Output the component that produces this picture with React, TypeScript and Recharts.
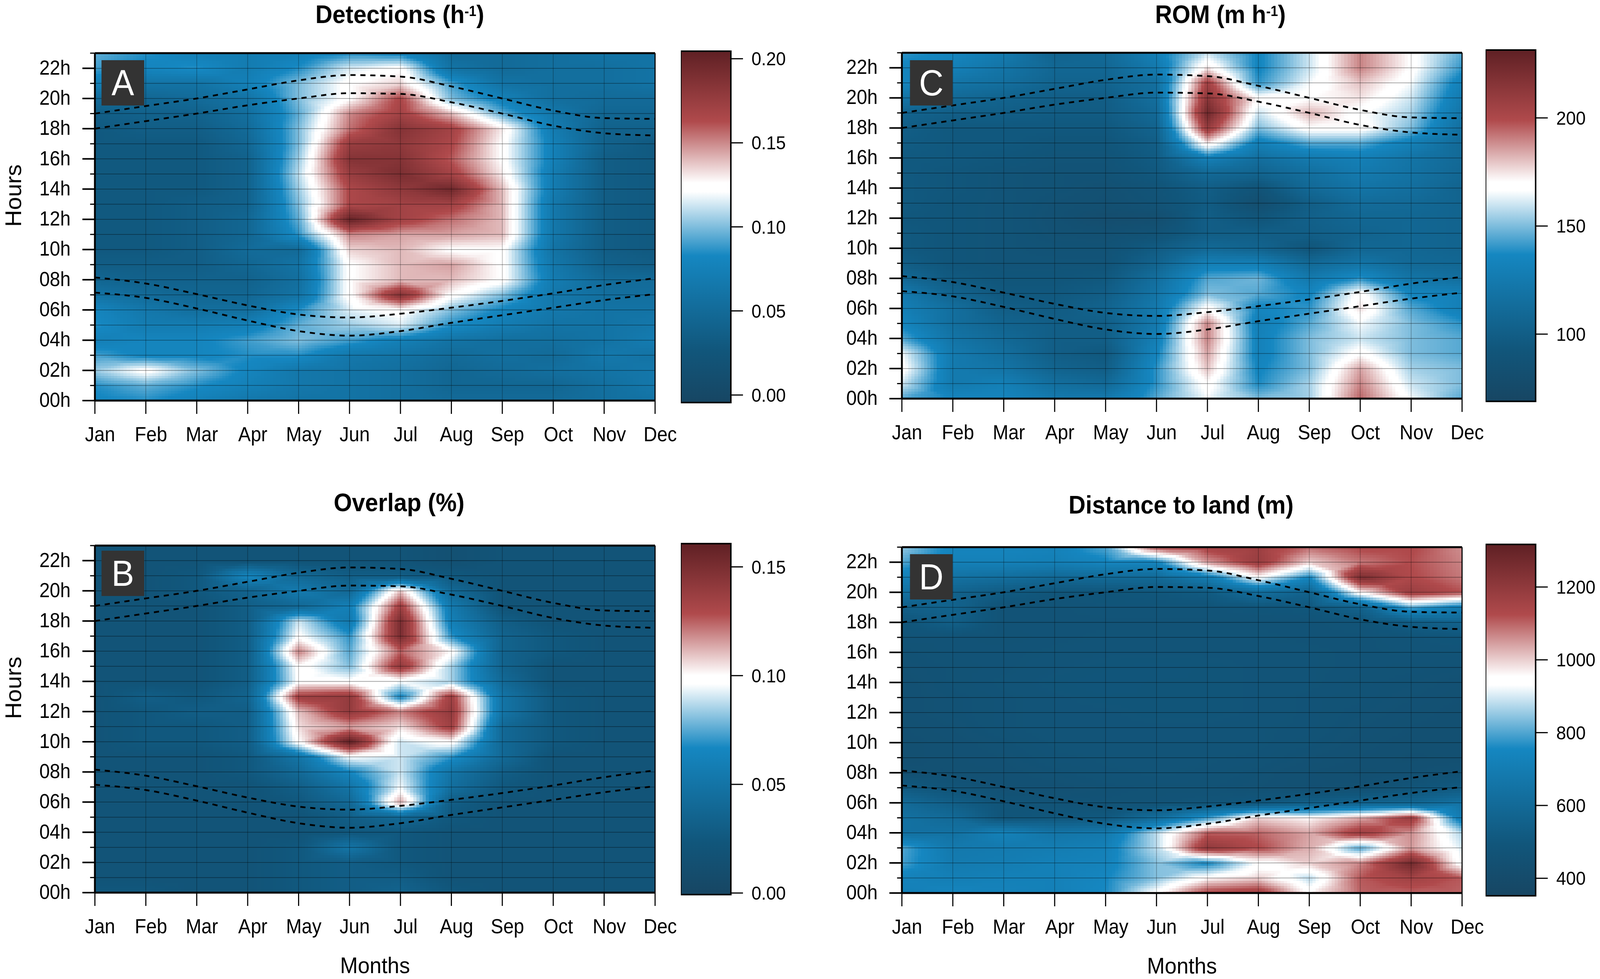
import React from "react";
import { Bar, BarChart, ComposedChart, Line, ReferenceLine, Scatter, XAxis, YAxis } from "recharts";

const MONTHS = ["Jan", "Feb", "Mar", "Apr", "May", "Jun", "Jul", "Aug", "Sep", "Oct", "Nov", "Dec"];
const MONTH_TICKS = [0, 1, 2, 3, 4, 5, 6, 7, 8, 9, 10, 11];
const HOUR_TICKS = [0, 1, 2, 3, 4, 5, 6, 7, 8, 9, 10, 11, 12, 13, 14, 15, 16, 17, 18, 19, 20, 21, 22, 23];

// dusk and dawn curves, one value per month
const DUSK_UPPER = [19.0, 19.5, 20.0, 20.6, 21.2, 21.55, 21.45, 20.8, 20.0, 19.2, 18.7, 18.65];
const DUSK_LOWER = [18.0, 18.5, 19.0, 19.55, 20.0, 20.35, 20.3, 19.75, 19.0, 18.2, 17.7, 17.55];
const DAWN_UPPER = [8.15, 7.75, 7.05, 6.3, 5.7, 5.5, 5.75, 6.15, 6.6, 7.1, 7.65, 8.1];
const DAWN_LOWER = [7.15, 6.8, 6.1, 5.3, 4.6, 4.3, 4.6, 5.15, 5.65, 6.15, 6.65, 7.05];

// every grid below runs top-down: first row is 23h, last row is 00h
const DETECTIONS = [
  [0.095, 0.085, 0.075, 0.07, 0.075, 0.085, 0.08, 0.05, 0.05, 0.055, 0.06, 0.06],
  [0.09, 0.08, 0.085, 0.07, 0.085, 0.115, 0.125, 0.06, 0.05, 0.055, 0.055, 0.06],
  [0.075, 0.06, 0.06, 0.075, 0.1, 0.125, 0.135, 0.09, 0.06, 0.055, 0.055, 0.06],
  [0.05, 0.045, 0.05, 0.06, 0.1, 0.125, 0.165, 0.1, 0.075, 0.055, 0.05, 0.05],
  [0.035, 0.04, 0.04, 0.055, 0.095, 0.15, 0.17, 0.14, 0.095, 0.065, 0.045, 0.045],
  [0.03, 0.035, 0.035, 0.05, 0.1, 0.155, 0.185, 0.17, 0.13, 0.07, 0.04, 0.04],
  [0.03, 0.03, 0.03, 0.045, 0.1, 0.175, 0.18, 0.165, 0.125, 0.075, 0.04, 0.03],
  [0.03, 0.03, 0.03, 0.04, 0.105, 0.185, 0.185, 0.16, 0.125, 0.075, 0.035, 0.03],
  [0.03, 0.03, 0.03, 0.04, 0.11, 0.175, 0.19, 0.17, 0.13, 0.07, 0.035, 0.03],
  [0.03, 0.03, 0.03, 0.04, 0.105, 0.165, 0.18, 0.195, 0.14, 0.07, 0.035, 0.03],
  [0.03, 0.03, 0.035, 0.04, 0.1, 0.165, 0.17, 0.17, 0.14, 0.065, 0.035, 0.03],
  [0.03, 0.03, 0.035, 0.045, 0.095, 0.2, 0.17, 0.155, 0.14, 0.065, 0.035, 0.03],
  [0.03, 0.03, 0.035, 0.045, 0.087, 0.15, 0.145, 0.145, 0.14, 0.065, 0.035, 0.03],
  [0.03, 0.03, 0.035, 0.05, 0.05, 0.135, 0.14, 0.125, 0.125, 0.06, 0.035, 0.03],
  [0.035, 0.035, 0.035, 0.045, 0.06, 0.125, 0.14, 0.145, 0.125, 0.065, 0.04, 0.035],
  [0.045, 0.04, 0.04, 0.04, 0.055, 0.125, 0.14, 0.14, 0.125, 0.07, 0.05, 0.05],
  [0.06, 0.05, 0.045, 0.045, 0.06, 0.125, 0.185, 0.125, 0.1, 0.065, 0.055, 0.055],
  [0.08, 0.065, 0.055, 0.055, 0.085, 0.115, 0.125, 0.1, 0.08, 0.065, 0.06, 0.06],
  [0.085, 0.07, 0.07, 0.075, 0.095, 0.105, 0.115, 0.085, 0.07, 0.06, 0.06, 0.065],
  [0.075, 0.08, 0.08, 0.09, 0.1, 0.09, 0.075, 0.06, 0.055, 0.055, 0.06, 0.07],
  [0.09, 0.08, 0.08, 0.085, 0.085, 0.065, 0.06, 0.05, 0.055, 0.05, 0.065, 0.06],
  [0.105, 0.125, 0.1, 0.08, 0.065, 0.06, 0.055, 0.045, 0.05, 0.055, 0.06, 0.065],
  [0.085, 0.095, 0.085, 0.075, 0.065, 0.06, 0.055, 0.045, 0.045, 0.045, 0.055, 0.065],
  [0.08, 0.085, 0.075, 0.065, 0.06, 0.06, 0.055, 0.05, 0.05, 0.05, 0.055, 0.06],
];

const OVERLAP = [
  [0.02, 0.02, 0.02, 0.02, 0.02, 0.02, 0.02, 0.015, 0.02, 0.02, 0.02, 0.02],
  [0.02, 0.02, 0.02, 0.02, 0.02, 0.02, 0.02, 0.015, 0.02, 0.02, 0.02, 0.02],
  [0.02, 0.02, 0.025, 0.065, 0.04, 0.03, 0.03, 0.025, 0.02, 0.02, 0.02, 0.02],
  [0.02, 0.02, 0.025, 0.035, 0.055, 0.04, 0.11, 0.04, 0.02, 0.02, 0.02, 0.02],
  [0.02, 0.02, 0.02, 0.03, 0.04, 0.06, 0.135, 0.055, 0.02, 0.02, 0.02, 0.02],
  [0.02, 0.02, 0.02, 0.03, 0.09, 0.055, 0.15, 0.06, 0.03, 0.02, 0.02, 0.02],
  [0.02, 0.02, 0.02, 0.03, 0.098, 0.07, 0.15, 0.07, 0.035, 0.025, 0.02, 0.02],
  [0.02, 0.02, 0.02, 0.03, 0.12, 0.075, 0.125, 0.1, 0.035, 0.025, 0.02, 0.02],
  [0.02, 0.02, 0.02, 0.03, 0.1, 0.08, 0.14, 0.085, 0.035, 0.02, 0.02, 0.02],
  [0.02, 0.02, 0.02, 0.03, 0.098, 0.098, 0.095, 0.085, 0.04, 0.02, 0.02, 0.02],
  [0.02, 0.03, 0.025, 0.035, 0.135, 0.14, 0.065, 0.135, 0.05, 0.025, 0.02, 0.02],
  [0.02, 0.025, 0.03, 0.03, 0.11, 0.14, 0.12, 0.14, 0.05, 0.025, 0.02, 0.02],
  [0.02, 0.025, 0.025, 0.03, 0.105, 0.115, 0.105, 0.135, 0.04, 0.025, 0.02, 0.02],
  [0.02, 0.025, 0.025, 0.03, 0.1, 0.16, 0.09, 0.1, 0.04, 0.025, 0.02, 0.02],
  [0.02, 0.02, 0.02, 0.025, 0.05, 0.095, 0.09, 0.07, 0.04, 0.02, 0.02, 0.02],
  [0.02, 0.02, 0.02, 0.025, 0.04, 0.065, 0.09, 0.05, 0.03, 0.02, 0.02, 0.02],
  [0.02, 0.02, 0.02, 0.02, 0.03, 0.05, 0.095, 0.045, 0.025, 0.02, 0.02, 0.02],
  [0.02, 0.02, 0.02, 0.02, 0.025, 0.04, 0.115, 0.03, 0.02, 0.02, 0.02, 0.02],
  [0.02, 0.02, 0.02, 0.02, 0.02, 0.03, 0.04, 0.025, 0.02, 0.02, 0.02, 0.02],
  [0.02, 0.02, 0.02, 0.02, 0.02, 0.025, 0.025, 0.02, 0.02, 0.02, 0.02, 0.02],
  [0.02, 0.02, 0.02, 0.02, 0.025, 0.05, 0.025, 0.02, 0.02, 0.02, 0.02, 0.02],
  [0.02, 0.02, 0.02, 0.02, 0.025, 0.03, 0.025, 0.02, 0.02, 0.02, 0.02, 0.02],
  [0.02, 0.02, 0.02, 0.02, 0.025, 0.03, 0.03, 0.02, 0.02, 0.02, 0.02, 0.02],
  [0.025, 0.025, 0.02, 0.02, 0.025, 0.03, 0.035, 0.025, 0.02, 0.02, 0.02, 0.02],
];

const ROM = [
  [140, 135, 125, 105, 110, 130, 160, 135, 160, 190, 170, 145],
  [135, 130, 120, 108, 108, 125, 175, 135, 160, 190, 170, 140],
  [135, 120, 115, 105, 105, 115, 205, 140, 165, 180, 165, 130],
  [120, 110, 105, 100, 100, 115, 215, 170, 170, 175, 160, 125],
  [105, 100, 100, 98, 98, 110, 225, 160, 182, 168, 155, 120],
  [100, 95, 95, 95, 95, 105, 210, 150, 170, 170, 150, 115],
  [98, 95, 95, 92, 92, 100, 175, 130, 145, 145, 130, 110],
  [96, 95, 93, 90, 90, 98, 130, 115, 125, 130, 120, 110],
  [96, 93, 90, 88, 88, 95, 110, 105, 115, 125, 118, 108],
  [96, 93, 90, 88, 85, 90, 100, 90, 110, 120, 115, 105],
  [96, 92, 90, 86, 84, 88, 98, 82, 100, 112, 110, 105],
  [94, 92, 90, 85, 80, 82, 100, 92, 102, 108, 108, 105],
  [96, 92, 90, 86, 85, 88, 100, 100, 100, 105, 108, 105],
  [96, 92, 90, 88, 88, 98, 110, 105, 92, 108, 108, 105],
  [100, 92, 90, 90, 90, 105, 130, 130, 110, 120, 110, 108],
  [110, 96, 92, 92, 95, 115, 145, 148, 125, 140, 120, 115],
  [125, 105, 95, 95, 100, 120, 150, 145, 135, 170, 135, 130],
  [130, 115, 100, 98, 105, 125, 170, 135, 140, 175, 145, 130],
  [135, 115, 105, 100, 100, 125, 190, 130, 145, 165, 150, 140],
  [145, 120, 110, 100, 100, 130, 190, 132, 150, 160, 150, 145],
  [165, 125, 115, 100, 95, 135, 185, 132, 150, 170, 150, 145],
  [170, 125, 120, 105, 100, 140, 180, 135, 150, 185, 155, 150],
  [160, 125, 130, 115, 110, 140, 170, 138, 155, 190, 160, 150],
  [145, 135, 135, 125, 125, 145, 165, 150, 155, 195, 165, 145],
];

const DISTANCE = [
  [850, 740, 740, 730, 800, 1120, 1150, 1170, 1090, 1130, 1130, 1060],
  [800, 720, 720, 710, 740, 740, 1050, 1180, 1000, 1080, 1120, 1070],
  [720, 640, 620, 590, 600, 600, 700, 945, 750, 1250, 1130, 1080],
  [640, 560, 520, 490, 490, 500, 520, 620, 560, 960, 1180, 1120],
  [540, 560, 470, 470, 480, 480, 480, 490, 500, 560, 800, 700],
  [490, 540, 470, 470, 470, 470, 470, 470, 470, 480, 530, 560],
  [470, 470, 465, 470, 475, 475, 475, 475, 470, 470, 480, 490],
  [460, 470, 470, 475, 480, 480, 480, 480, 475, 470, 475, 475],
  [455, 465, 470, 480, 485, 490, 485, 480, 475, 470, 465, 460],
  [450, 465, 475, 485, 490, 485, 485, 480, 475, 465, 460, 450],
  [450, 460, 470, 480, 485, 485, 485, 480, 470, 465, 455, 445],
  [450, 460, 470, 480, 480, 485, 485, 480, 470, 460, 450, 440],
  [445, 455, 470, 480, 480, 480, 480, 475, 470, 455, 445, 440],
  [440, 450, 460, 475, 480, 480, 480, 475, 465, 450, 440, 440],
  [440, 450, 455, 470, 475, 480, 475, 470, 455, 445, 435, 440],
  [450, 445, 450, 460, 470, 475, 470, 460, 445, 435, 445, 460],
  [520, 480, 450, 450, 460, 465, 465, 455, 445, 450, 480, 520],
  [600, 540, 480, 470, 465, 470, 480, 500, 540, 560, 580, 640],
  [640, 600, 490, 500, 510, 620, 790, 1000, 960, 1040, 1170, 700],
  [640, 640, 720, 660, 680, 880, 1110, 1100, 1040, 1170, 1060, 870],
  [800, 680, 690, 700, 720, 880, 1200, 1130, 1030, 800, 1050, 900],
  [790, 690, 700, 720, 730, 840, 750, 930, 1000, 1070, 1270, 930],
  [730, 710, 720, 720, 750, 840, 960, 1000, 880, 1110, 1160, 1110],
  [720, 740, 730, 720, 760, 950, 1150, 1180, 960, 1100, 1100, 1100],
];

const BAR_TICKS_A = [0, 0.05, 0.1, 0.15, 0.2];
const BAR_TICKS_B = [0, 0.05, 0.1, 0.15];
const BAR_TICKS_C = [100, 150, 200];
const BAR_TICKS_D = [400, 600, 800, 1000, 1200];

// colour ramp: offset along the bar, colour
const RAMP: [number, number[]][] = [
  [0, [0x17, 0x46, 0x63]],
  [0.148, [0x11, 0x56, 0x7b]],
  [0.418, [0x15, 0x87, 0xc1]],
  [0.6, [0xff, 0xff, 0xff]],
  [0.625, [0xff, 0xff, 0xff]],
  [0.8, [0xb0, 0x4a, 0x4c]],
  [1, [0x5f, 0x20, 0x24]],
];

const FONT = "'Liberation Sans', Arial, sans-serif";
const PAGE_W = 4350;
const VIEW_W = 4096; // the browser tops out here, so the sheet is squeezed to fit
const PLOT_W = 1523;
const CELL_STEPS_X = 16;
const CELL_STEPS_Y = 6;

const rampColor = (t: number) => {
  const f = Math.max(0, Math.min(1, t));
  let i = 0;
  while (i < RAMP.length - 2 && f > RAMP[i + 1][0]) i++;
  const [a, ca] = RAMP[i];
  const [b, cb] = RAMP[i + 1];
  const k = (f - a) / (b - a);
  return `rgb(${ca.map((c, n) => Math.round(c + (cb[n] - c) * k)).join(",")})`;
};

// colour inside one cell: four flat facets meeting at the mean of the corners
const facetValue = (u: number, w: number, v00: number, v10: number, v01: number, v11: number) => {
  const c = (v00 + v10 + v01 + v11) / 4;
  if (w <= u && w <= 1 - u) return c * 2 * w + v00 * (1 - u - w) + v10 * (u - w);
  if (w >= u && w >= 1 - u) return c * 2 * (1 - w) + v01 * (w - u) + v11 * (u + w - 1);
  if (u <= w) return c * 2 * u + v00 * (1 - u - w) + v01 * (w - u);
  return c * 2 * (1 - u) + v10 * (u - w) + v11 * (u + w - 1);
};

const HeatPatch = ({ cx, cy, payload, grid, lo, hi, cw, ch }: any) => {
  const { m, h } = payload;
  if (m === 11 || h === 23) return null;
  const v00 = grid[23 - h][m];
  const v10 = grid[23 - h][m + 1];
  const v01 = grid[22 - h][m];
  const v11 = grid[22 - h][m + 1];
  const rects = [];
  for (let i = 0; i < CELL_STEPS_X; i++) {
    for (let j = 0; j < CELL_STEPS_Y; j++) {
      const v = facetValue((i + 0.5) / CELL_STEPS_X, (j + 0.5) / CELL_STEPS_Y, v00, v10, v01, v11);
      rects.push(
        <rect
          key={`${i}-${j}`}
          x={cx + (i * cw) / CELL_STEPS_X}
          y={cy - ((j + 1) * ch) / CELL_STEPS_Y}
          width={cw / CELL_STEPS_X + 1}
          height={ch / CELL_STEPS_Y + 1}
          fill={rampColor((v - lo) / (hi - lo))}
          shapeRendering="crispEdges"
        />
      );
    }
  }
  return <g>{rects}</g>;
};

const HourTick = ({ x, y, payload }: any) => {
  const major = payload.value % 2 === 0;
  return (
    <g>
      <line x1={x} x2={x - (major ? 34 : 13)} y1={y} y2={y} stroke="#000" strokeWidth={major ? 4 : 3} />
      {major && (
        <text x={x - 66} y={y + 16} textAnchor="end" fontSize={51} fontFamily={FONT} fill="#000">
          {String(payload.value).padStart(2, "0")}h
        </text>
      )}
    </g>
  );
};

const curveRows = (values: number[]) => values.map((v, m) => ({ m, v }));

const Panel = ({ grid, left, top, height, lo, hi, hoursLabel, monthsLabel }: any) => {
  const points = grid.flatMap((row: number[], r: number) => row.map((value, m) => ({ m, h: 23 - r, value })));
  const cw = PLOT_W / 11;
  const ch = height / 23;
  return (
    <div style={{ position: "absolute", left: left - 258, top: top - 40 }}>
      <ComposedChart
        width={258 + PLOT_W + 70}
        height={40 + height + 220}
        margin={{ top: 40, right: 70, bottom: 0, left: 0 }}
      >
        <XAxis
          type="number"
          dataKey="m"
          domain={[0, 11]}
          ticks={MONTH_TICKS}
          interval={0}
          height={220}
          tickSize={34}
          tickMargin={34}
          tickFormatter={(i: number) => MONTHS[i]}
          tick={{ fontSize: 51, fontFamily: FONT, fill: "#000", dx: 14 }}
          tickLine={{ stroke: "#000", strokeWidth: 3 }}
          axisLine={{ stroke: "#000", strokeWidth: 5 }}
          label={
            monthsLabel
              ? { value: "Months", position: "insideBottom", offset: 14, fontSize: 58, fontFamily: FONT, fill: "#000" }
              : undefined
          }
        />
        <YAxis
          type="number"
          dataKey="h"
          domain={[0, 23]}
          ticks={HOUR_TICKS}
          interval={0}
          width={258}
          tickSize={0}
          tickMargin={0}
          tickLine={false}
          tick={<HourTick />}
          axisLine={{ stroke: "#000", strokeWidth: 5 }}
          label={
            hoursLabel
              ? { value: "Hours", angle: -90, position: "insideLeft", offset: 36, fontSize: 60, fontFamily: FONT, fill: "#000" }
              : undefined
          }
        />
        <Scatter
          data={points}
          zIndex={10}
          isAnimationActive={false}
          shape={(p: any) => <HeatPatch {...p} grid={grid} lo={lo} hi={hi} cw={cw} ch={ch} />}
        />
        {HOUR_TICKS.map((h) => (
          <ReferenceLine key={`h${h}`} y={h} stroke="rgba(0,0,0,0.45)" strokeWidth={1.5} />
        ))}
        {MONTH_TICKS.map((m) => (
          <ReferenceLine key={`m${m}`} x={m} stroke="rgba(0,0,0,0.35)" strokeWidth={1.5} />
        ))}
        <ReferenceLine y={23} stroke="#000" strokeWidth={5} />
        <ReferenceLine x={11} stroke="#000" strokeWidth={3} />
        {[DUSK_UPPER, DUSK_LOWER, DAWN_UPPER, DAWN_LOWER].map((curve, i) => (
          <Line
            key={i}
            data={curveRows(curve)}
            dataKey="v"
            type="monotone"
            dot={false}
            stroke="#000"
            strokeWidth={4.5}
            strokeDasharray="14 13"
            isAnimationActive={false}
          />
        ))}
      </ComposedChart>
    </div>
  );
};

const ColorBar = ({ id, left, top, height, lo, hi, ticks, digits }: any) => (
  <div style={{ position: "absolute", left, top: top - 40 }}>
    <BarChart
      width={136 + 175}
      height={height + 80}
      data={[{ name: id, range: [lo, hi] }]}
      margin={{ top: 40, right: 0, bottom: 40, left: 0 }}
      barCategoryGap={0}
    >
      <defs>
        <linearGradient id={`ramp-${id}`} x1="0" y1="1" x2="0" y2="0">
          {RAMP.map(([o, c]) => (
            <stop key={o} offset={o} stopColor={`rgb(${c.join(",")})`} />
          ))}
        </linearGradient>
      </defs>
      <XAxis dataKey="name" hide />
      <YAxis
        orientation="right"
        type="number"
        domain={[lo, hi]}
        ticks={ticks}
        interval={0}
        width={175}
        tickSize={33}
        tickMargin={23}
        axisLine={false}
        tickFormatter={(v: number) => v.toFixed(digits)}
        tick={{ fontSize: 48, fontFamily: FONT, fill: "#000" }}
        tickLine={{ stroke: "#000", strokeWidth: 3 }}
      />
      <Bar dataKey="range" fill={`url(#ramp-${id})`} stroke="#000" strokeWidth={4} isAnimationActive={false} />
    </BarChart>
  </div>
);

const Title = ({ center, top, children }: any) => (
  <div
    style={{
      position: "absolute",
      left: center,
      top,
      transform: "translateX(-50%)",
      whiteSpace: "nowrap",
      font: `bold 64px/64px ${FONT}`,
      color: "#000",
    }}
  >
    {children}
  </div>
);

const Badge = ({ left, top, letter }: any) => (
  <div
    style={{
      position: "absolute",
      left,
      top,
      width: 116,
      height: 116,
      background: "#333",
      color: "#fff",
      font: `92px/116px ${FONT}`,
      textAlign: "center",
    }}
  >
    {letter}
  </div>
);

const sup = { fontSize: 36, lineHeight: 0, verticalAlign: 18 };

export default function App() {
  return (
    <div style={{ position: "absolute", left: 0, top: 0, width: VIEW_W, height: 2505, overflow: "hidden", background: "#fff" }}>
      <div
        style={{
          position: "relative",
          width: PAGE_W,
          height: 2505,
          transform: `scaleX(${VIEW_W / PAGE_W})`,
          transformOrigin: "0 0",
        }}
      >
        <Panel grid={DETECTIONS} left={258} top={136} height={889} lo={-0.0045} hi={0.2045} hoursLabel />
        <Panel grid={ROM} left={2452} top={135} height={885} lo={68.9} hi={231.4} />
        <Panel grid={OVERLAP} left={258} top={1396} height={888} lo={-0.0007} hi={0.1607} hoursLabel monthsLabel />
        <Panel grid={DISTANCE} left={2452} top={1400} height={885} lo={352} hi={1317} monthsLabel />

        <ColorBar id="a" left={1851} top={131} height={899} lo={-0.0045} hi={0.2045} ticks={BAR_TICKS_A} digits={2} />
        <ColorBar id="c" left={4039} top={128} height={899} lo={68.9} hi={231.4} ticks={BAR_TICKS_C} digits={0} />
        <ColorBar id="b" left={1851} top={1391} height={898} lo={-0.0007} hi={0.1607} ticks={BAR_TICKS_B} digits={2} />
        <ColorBar id="d" left={4039} top={1393} height={899} lo={352} hi={1317} ticks={BAR_TICKS_D} digits={0} />

        <Title center={1087} top={5}>Detections (h<sup style={sup}>-1</sup>)</Title>
        <Title center={3318} top={5}>ROM (m h<sup style={sup}>-1</sup>)</Title>
        <Title center={1085} top={1254}>Overlap (%)</Title>
        <Title center={3211} top={1260}>Distance to land (m)</Title>

        <Badge left={276} top={154} letter="A" />
        <Badge left={2474} top={154} letter="C" />
        <Badge left={276} top={1409} letter="B" />
        <Badge left={2474} top={1418} letter="D" />
      </div>
    </div>
  );
}
